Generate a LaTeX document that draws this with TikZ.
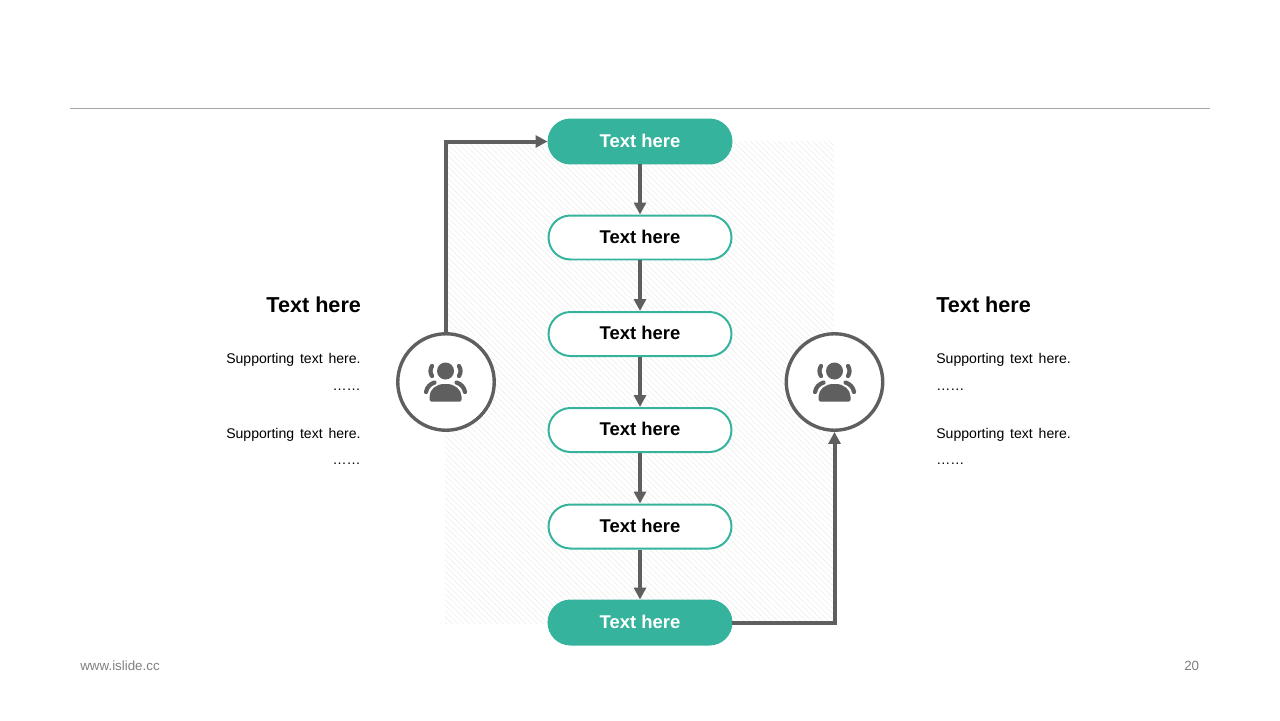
\documentclass[tikz,border=0pt]{standalone}
\usepackage{fontspec}
\setmainfont{Liberation Sans}
\newfontfamily\supfont[WordSpace=1.5]{Liberation Sans}
\usetikzlibrary{arrows.meta,patterns.meta}
\definecolor{tealpill}{HTML}{35B39C}
\definecolor{darkline}{HTML}{5F5F5F}
\definecolor{footgray}{HTML}{7F7F7F}
\tikzset{
	pillbase/.style={rectangle, rounded corners=0.44cm, minimum width=3.66cm, minimum height=0.88cm, line width=0.04cm, draw=tealpill, text depth=1.3pt, font=\fontsize{10.5}{12}\selectfont\bfseries},
	pillfull/.style={pillbase, fill=tealpill, text=white},
	pillopen/.style={pillbase, fill=white, text=black},
	userring/.style={circle, minimum size=1.93cm, line width=0.068cm, draw=darkline, fill=white, inner sep=0pt},
	flowline/.style={line width=0.08cm, color=darkline, -{Triangle[length=0.24cm, width=0.24cm]}},
	iconline/.style={darkline, line width=0.085cm, line cap=round},
	headtext/.style={font=\fontsize{12.3}{14}\selectfont\bfseries, text=black},
	suptext/.style={font=\fontsize{8}{10}\selectfont\supfont, text=black},
	foottext/.style={font=\fontsize{7.6}{9}\selectfont, text=footgray}
}
\begin{document}
\begin{tikzpicture}[x=0.02cm, y=-0.02cm]
	\useasboundingbox (0, 0) rectangle (1280, 720);
	
	% rule and hatched backing
	\draw[line width=0.015cm, color=black!35] (70, 108) -- (1210, 108);
	\fill[pattern={Lines[angle=-45, distance=0.08cm, line width=0.012cm]}, pattern color=black!7] (445, 141) rectangle (834, 623);
	
	% pills
	\node[pillfull] (stepA) at (640, 141.5) {Text here};
	\node[pillopen] (stepB) at (640, 237.5) {Text here};
	\node[pillopen] (stepC) at (640, 334) {Text here};
	\node[pillopen] (stepD) at (640, 430) {Text here};
	\node[pillopen] (stepE) at (640, 526.5) {Text here};
	\node[pillfull] (stepF) at (640, 622.5) {Text here};
	
	\foreach \from/\to in {stepA/stepB, stepB/stepC, stepC/stepD, stepD/stepE, stepE/stepF}
		\draw[flowline] (\from) -- (\to);
	
	% rings
	\node[userring] (userL) at (446, 382) {};
	\node[userring] (userR) at (834.5, 382) {};
	
	\draw[flowline] (userL.north) -- (userL.north |- stepA.west) -- (stepA.west);
	\draw[flowline] (stepF.east) -- (userR.south |- stepF.east) -- (userR.south);
	
	% user icons
	\foreach \c in {445.5, 834.5} {
		\fill[darkline] (\c, 371) circle (8.5);
		\fill[darkline, rounded corners=0.03cm] (\c-16, 401.5) -- (\c-16, 398) .. controls (\c-16, 389.5) and (\c-9, 384) .. (\c, 384) .. controls (\c+9, 384) and (\c+16, 389.5) .. (\c+16, 398) -- (\c+16, 401.5) -- cycle;
		\draw[iconline] (\c-13.5, 366) .. controls (\c-15.5, 369) and (\c-15.5, 373) .. (\c-13.5, 376);
		\draw[iconline] (\c+13.5, 366) .. controls (\c+15.5, 369) and (\c+15.5, 373) .. (\c+13.5, 376);
		\draw[iconline] (\c-19.5, 392) .. controls (\c-18.5, 387) and (\c-15.5, 384) .. (\c-11, 382.5);
		\draw[iconline] (\c+19.5, 392) .. controls (\c+18.5, 387) and (\c+15.5, 384) .. (\c+11, 382.5);
	}
	
	% left text
	\node[headtext, anchor=east, inner sep=0pt] (headL) at (361.3, 305) {Text here};
	\node[suptext, anchor=east, inner sep=0pt] (supLa) at (361, 359.5) {Supporting text here.};
	\node[suptext, anchor=east, inner sep=0pt] (dotLa) at (361, 390) {……};
	\node[suptext, anchor=east, inner sep=0pt] (supLb) at (361, 434.5) {Supporting text here.};
	\node[suptext, anchor=east, inner sep=0pt] (dotLb) at (361, 464) {……};
	
	% right text
	\node[headtext, anchor=west, inner sep=0pt] (headR) at (936, 305) {Text here};
	\node[suptext, anchor=west, inner sep=0pt] (supRa) at (936, 359.5) {Supporting text here.};
	\node[suptext, anchor=west, inner sep=0pt] (dotRa) at (936, 390) {……};
	\node[suptext, anchor=west, inner sep=0pt] (supRb) at (936, 434.5) {Supporting text here.};
	\node[suptext, anchor=west, inner sep=0pt] (dotRb) at (936, 464) {……};
	
	% footer
	\node[foottext, anchor=west, inner sep=0pt] (siteurl) at (80, 666) {www.islide.cc};
	\node[foottext, anchor=east, inner sep=0pt] (pagenum) at (1199.5, 666) {20};
\end{tikzpicture}
\end{document}
